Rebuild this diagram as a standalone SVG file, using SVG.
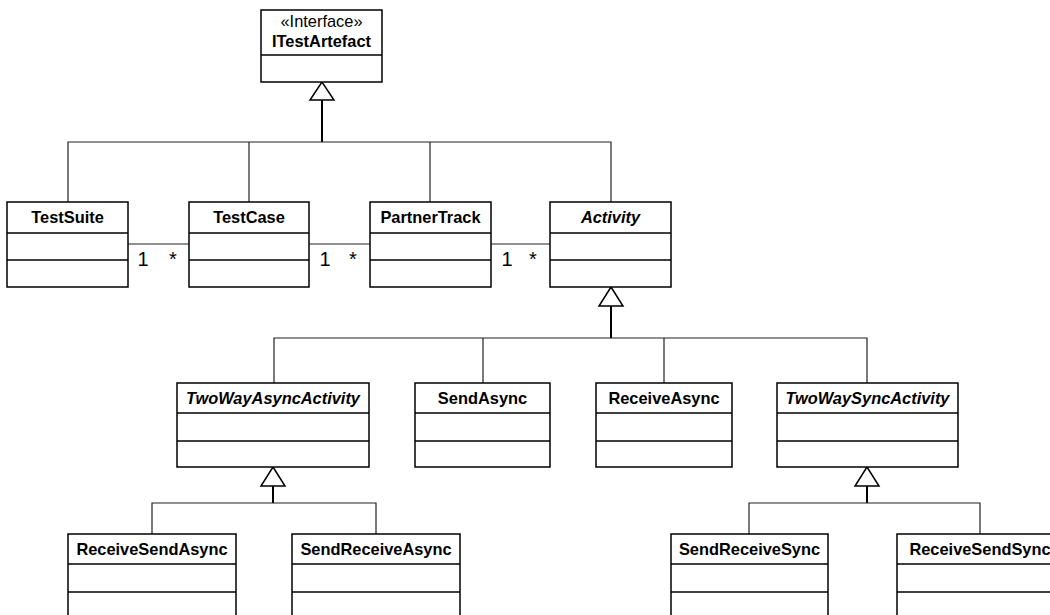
<svg xmlns="http://www.w3.org/2000/svg" width="1050" height="615" viewBox="0 0 1050 615">
  <style>
    .box { fill: #ffffff; stroke: #000000; stroke-width: 1.5; }
    .sep { stroke: #000000; stroke-width: 1.5; }
    .name { font-family: "Liberation Sans", Arial, sans-serif; font-size: 16.4px; font-weight: bold; fill: #000000; text-anchor: middle; }
    .abstract { font-style: italic; }
    .stereo { font-family: "Liberation Sans", Arial, sans-serif; font-size: 16.4px; fill: #000000; text-anchor: middle; }
    .mult { font-family: "Liberation Sans", Arial, sans-serif; font-size: 20px; fill: #000000; text-anchor: middle; }
    .line { fill: none; stroke: #222222; stroke-width: 1.2; }
    .stem { fill: none; stroke: #000000; stroke-width: 2; }
    .tri { fill: #ffffff; stroke: #000000; stroke-width: 1.5; stroke-linejoin: miter; }
  </style>
  <rect width="1050" height="615" fill="#ffffff"/>

  <!-- connectors: generalizations and associations -->
  <g id="connectors">
    <!-- ITestArtefact realisation tree -->
    <path class="stem" d="M322,100 V142"/>
    <path class="line" d="M68,202 V142 H611 V202 M249,142 V202 M430,142 V202"/>
    <polygon class="tri" points="322,82 310,100 334,100"/>

    <!-- associations with multiplicities -->
    <path class="line" d="M128,244 H189 M309,244 H370 M491,244 H550"/>
    <text class="mult" x="143" y="266">1</text>
    <text class="mult" x="173" y="266">*</text>
    <text class="mult" x="325" y="266">1</text>
    <text class="mult" x="353" y="266">*</text>
    <text class="mult" x="507" y="266">1</text>
    <text class="mult" x="533" y="266">*</text>

    <!-- Activity subclasses -->
    <path class="stem" d="M611,306 V338"/>
    <path class="line" d="M274,383 V338 H867 V383 M483,338 V383 M664,338 V383"/>
    <polygon class="tri" points="611,287 599,306 623,306"/>

    <!-- TwoWayAsyncActivity subclasses -->
    <path class="stem" d="M273,486 V503"/>
    <path class="line" d="M152,534 V503 H376 V534"/>
    <polygon class="tri" points="273,467 261,486 285,486"/>

    <!-- TwoWaySyncActivity subclasses -->
    <path class="stem" d="M867,486 V503"/>
    <path class="line" d="M749,534 V503 H980 V534"/>
    <polygon class="tri" points="867,467 855,486 879,486"/>
  </g>

  <!-- interface -->
  <g id="ITestArtefact">
    <rect class="box" x="261" y="10" width="121" height="72"/>
    <line class="sep" x1="261" y1="55" x2="382" y2="55"/>
    <text class="stereo" x="321.5" y="27">«Interface»</text>
    <text class="name" x="321.5" y="47">ITestArtefact</text>
  </g>

  <!-- first row -->
  <g id="TestSuite">
    <rect class="box" x="7" y="202" width="121" height="85"/>
    <line class="sep" x1="7" y1="233" x2="128" y2="233"/>
    <line class="sep" x1="7" y1="260" x2="128" y2="260"/>
    <text class="name" x="67.5" y="223">TestSuite</text>
  </g>
  <g id="TestCase">
    <rect class="box" x="189" y="202" width="120" height="85"/>
    <line class="sep" x1="189" y1="233" x2="309" y2="233"/>
    <line class="sep" x1="189" y1="260" x2="309" y2="260"/>
    <text class="name" x="249" y="223">TestCase</text>
  </g>
  <g id="PartnerTrack">
    <rect class="box" x="370" y="202" width="121" height="85"/>
    <line class="sep" x1="370" y1="233" x2="491" y2="233"/>
    <line class="sep" x1="370" y1="260" x2="491" y2="260"/>
    <text class="name" x="430.5" y="223">PartnerTrack</text>
  </g>
  <g id="Activity">
    <rect class="box" x="550" y="202" width="121" height="85"/>
    <line class="sep" x1="550" y1="233" x2="671" y2="233"/>
    <line class="sep" x1="550" y1="260" x2="671" y2="260"/>
    <text class="name abstract" x="610.5" y="223">Activity</text>
  </g>

  <!-- second row -->
  <g id="TwoWayAsyncActivity">
    <rect class="box" x="177" y="383" width="192" height="84"/>
    <line class="sep" x1="177" y1="413" x2="369" y2="413"/>
    <line class="sep" x1="177" y1="441" x2="369" y2="441"/>
    <text class="name abstract" x="273" y="404">TwoWayAsyncActivity</text>
  </g>
  <g id="SendAsync">
    <rect class="box" x="415" y="383" width="135" height="84"/>
    <line class="sep" x1="415" y1="413" x2="550" y2="413"/>
    <line class="sep" x1="415" y1="441" x2="550" y2="441"/>
    <text class="name" x="482.5" y="404">SendAsync</text>
  </g>
  <g id="ReceiveAsync">
    <rect class="box" x="596" y="383" width="136" height="84"/>
    <line class="sep" x1="596" y1="413" x2="732" y2="413"/>
    <line class="sep" x1="596" y1="441" x2="732" y2="441"/>
    <text class="name" x="664" y="404">ReceiveAsync</text>
  </g>
  <g id="TwoWaySyncActivity">
    <rect class="box" x="777" y="383" width="181" height="84"/>
    <line class="sep" x1="777" y1="413" x2="958" y2="413"/>
    <line class="sep" x1="777" y1="441" x2="958" y2="441"/>
    <text class="name abstract" x="867.5" y="404">TwoWaySyncActivity</text>
  </g>

  <!-- third row -->
  <g id="ReceiveSendAsync">
    <rect class="box" x="68" y="534" width="168" height="90"/>
    <line class="sep" x1="68" y1="564" x2="236" y2="564"/>
    <line class="sep" x1="68" y1="592" x2="236" y2="592"/>
    <text class="name" x="152" y="555">ReceiveSendAsync</text>
  </g>
  <g id="SendReceiveAsync">
    <rect class="box" x="292" y="534" width="168" height="90"/>
    <line class="sep" x1="292" y1="564" x2="460" y2="564"/>
    <line class="sep" x1="292" y1="592" x2="460" y2="592"/>
    <text class="name" x="376" y="555">SendReceiveAsync</text>
  </g>
  <g id="SendReceiveSync">
    <rect class="box" x="671" y="534" width="157" height="90"/>
    <line class="sep" x1="671" y1="564" x2="828" y2="564"/>
    <line class="sep" x1="671" y1="592" x2="828" y2="592"/>
    <text class="name" x="749.5" y="555">SendReceiveSync</text>
  </g>
  <g id="ReceiveSendSync">
    <rect class="box" x="897" y="534" width="166" height="90"/>
    <line class="sep" x1="897" y1="564" x2="1063" y2="564"/>
    <line class="sep" x1="897" y1="592" x2="1063" y2="592"/>
    <text class="name" x="980" y="555">ReceiveSendSync</text>
  </g>
</svg>
